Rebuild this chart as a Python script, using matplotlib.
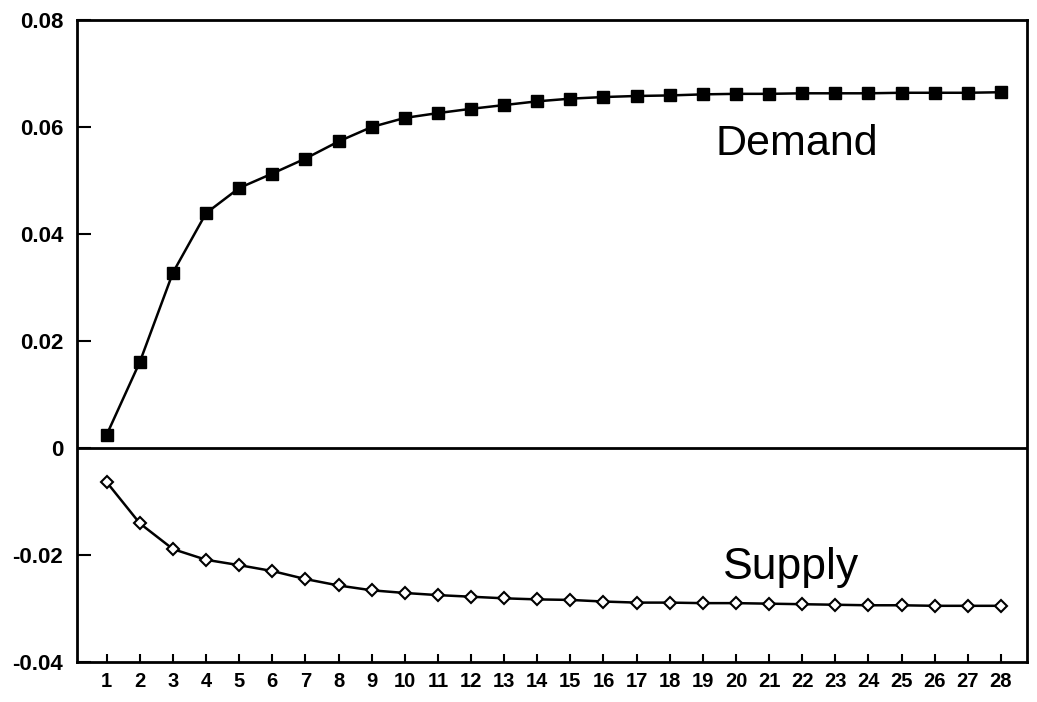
import matplotlib
matplotlib.use("Agg")
import matplotlib.pyplot as plt

# Response of demand and supply over 28 periods
periods = list(range(1, 29))
demand = [0.0025, 0.0161, 0.0328, 0.0439, 0.0486, 0.0513, 0.0541, 0.0573,
          0.0600, 0.0617, 0.0626, 0.0634, 0.0641, 0.0648, 0.0653, 0.0656,
          0.0658, 0.0659, 0.0661, 0.0662, 0.0662, 0.0663, 0.0663, 0.0663,
          0.0664, 0.0664, 0.0664, 0.0665]
supply = [-0.0064, -0.0141, -0.0189, -0.0209, -0.0219, -0.0230, -0.0245, -0.0257,
          -0.0266, -0.0271, -0.0275, -0.0278, -0.0281, -0.0283, -0.0284, -0.0287,
          -0.0289, -0.0289, -0.0290, -0.0290, -0.0291, -0.0292, -0.0293, -0.0294,
          -0.0294, -0.0295, -0.0295, -0.0295]
y_ticks = [0.08, 0.06, 0.04, 0.02, 0, -0.02, -0.04]
y_labels = ["0.08", "0.06", "0.04", "0.02", "0", "-0.02", "-0.04"]

plt.rcParams['font.family'] = ['Liberation Sans', 'DejaVu Sans']

fig = plt.figure(figsize=(10.37, 7.02), dpi=100)
ax = fig.add_axes([0.0743, 0.0570, 0.9161, 0.9145])

ax.axhline(0, color='black', lw=2, zorder=1)
ax.plot(periods, demand, color='black', lw=1.8, marker='s', ms=8,
        markerfacecolor='black', markeredgecolor='black', zorder=3)
ax.plot(periods, supply, color='black', lw=1.8, marker='D', ms=5.8,
        markerfacecolor='white', markeredgecolor='black', mew=1.5, zorder=3)

ax.text(19.38, 0.0547, "Demand", fontsize=31, ha='left', va='baseline')
ax.text(19.62, -0.0244, "Supply", fontsize=32, ha='left', va='baseline')

ax.set_xlim(0.103, 28.79)
ax.set_ylim(-0.04, 0.08)
ax.set_xticks(periods)
ax.set_xticklabels([str(p) for p in periods], fontsize=14.5, fontweight='bold')
ax.set_yticks(y_ticks)
ax.set_yticklabels(y_labels, fontsize=16, fontweight='bold')

ax.tick_params(axis='x', direction='in', length=6, width=1.5, pad=7)
ax.tick_params(axis='y', direction='in', length=10, width=1.5, pad=10)
ax.yaxis.set_ticks_position('left')
ax.xaxis.set_ticks_position('bottom')

for sp in ax.spines.values():
    sp.set_linewidth(2)

plt.savefig('out.png', dpi=100)
